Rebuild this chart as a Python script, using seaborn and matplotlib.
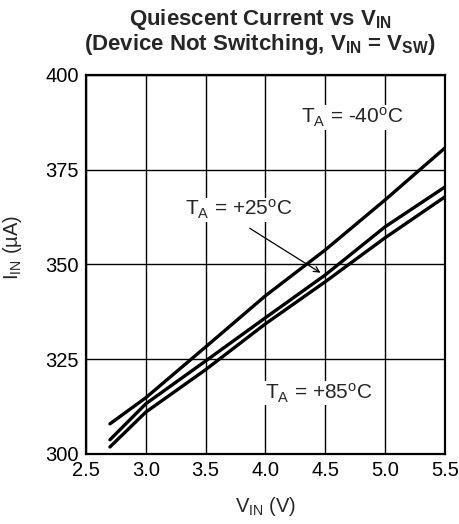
import matplotlib
matplotlib.use("Agg")
import matplotlib.pyplot as plt
import seaborn as sns
import pandas as pd

vin = [2.7, 3.0, 3.5, 4.0, 4.5, 5.0, 5.5]
i_m40 = [307.9, 314.8, 328.2, 341.7, 353.8, 367.0, 380.7]
i_p25 = [303.7, 313.2, 324.5, 335.9, 347.2, 359.9, 370.4]
i_p85 = [301.8, 311.0, 322.2, 334.3, 345.4, 357.0, 367.8]
series = ["-40", "+25", "+85"]
x_ticks = [2.5, 3.0, 3.5, 4.0, 4.5, 5.0, 5.5]
y_ticks = [300, 325, 350, 375, 400]

rows = []
for name, vals in zip(series, [i_m40, i_p25, i_p85]):
    for v, i in zip(vin, vals):
        rows.append({"vin": v, "iin": i, "temp": name})
df = pd.DataFrame(rows)

sns.set_style("white")
plt.rcParams["font.family"] = ["Liberation Sans", "DejaVu Sans"]
plt.rcParams["mathtext.fontset"] = "custom"
plt.rcParams["mathtext.rm"] = "Liberation Sans"
plt.rcParams["mathtext.it"] = "Liberation Sans:italic"
plt.rcParams["mathtext.bf"] = "Liberation Sans:bold"

fig = plt.figure(figsize=(4.6, 5.24), dpi=100)
ax = fig.add_axes([0.187, 0.134, 0.780, 0.723])
sns.lineplot(data=df, x="vin", y="iin", hue="temp", palette=["black"] * 3,
             linewidth=2.4, legend=False, ax=ax, sort=True)

ax.set_xlim(2.5, 5.5)
ax.set_ylim(300, 400)
ax.set_xticks(x_ticks)
ax.set_xticklabels([f"{t:.1f}" for t in x_ticks])
ax.set_yticks(y_ticks)
ax.grid(True, color="black", linewidth=1.0)
ax.set_axisbelow(True)
for s in ax.spines.values():
    s.set_color("black")
    s.set_linewidth(1.6)
ax.tick_params(axis="both", labelsize=14.5, length=0, pad=5, colors="black")

ax.set_xlabel(r"V$_{\mathrm{IN}}$ (V)", fontsize=14.5, labelpad=11)
ax.set_ylabel(r"I$_{\mathrm{IN}}$ (µA)", fontsize=14.5)
ax.yaxis.set_label_coords(-0.172, 0.545)

fig.text(0.565, 0.963, r"Quiescent Current vs $\mathbf{V_{IN}}$",
         ha="center", va="center", fontsize=16, fontweight="bold")
fig.text(0.565, 0.916, r"(Device Not Switching, $\mathbf{V_{IN}}$ = $\mathbf{V_{SW}}$)",
         ha="center", va="center", fontsize=16, fontweight="bold")

lab_kw = dict(fontsize=15, va="center", ha="left",
              bbox=dict(facecolor="white", edgecolor="none", pad=0.5))
ax.text(4.30, 388.7, r"T$_{\mathrm{A}}$ = -40$^{\mathrm{o}}$C", **lab_kw)
ax.text(3.33, 364.4, r"T$_{\mathrm{A}}$ = +25$^{\mathrm{o}}$C", **lab_kw)
ax.text(3.995, 316.0, r"T$_{\mathrm{A}}$ = +85$^{\mathrm{o}}$C", **lab_kw)
ax.annotate("", xy=(4.48, 347.4), xytext=(3.85, 359.9),
            arrowprops=dict(arrowstyle="->", color="black", lw=0.9))

fig.savefig("out.png", dpi=100)
